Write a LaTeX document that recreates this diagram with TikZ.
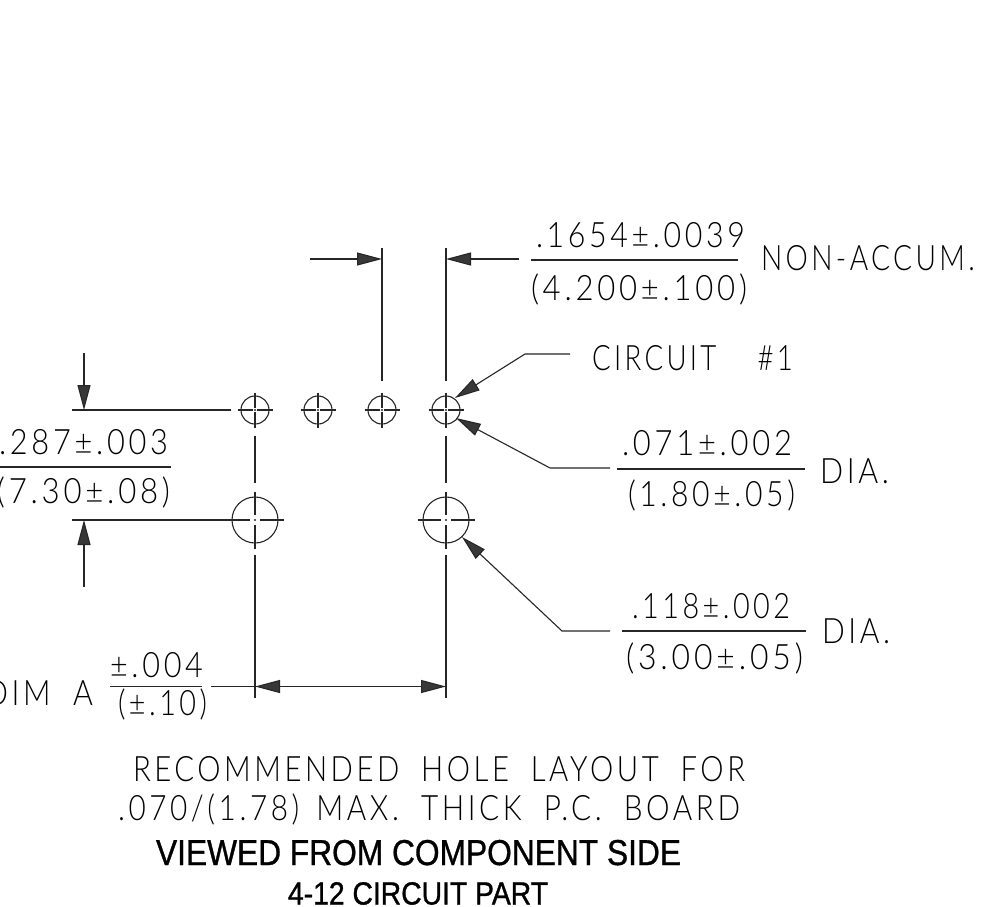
\documentclass[tikz,border=0pt]{standalone}
\usepackage{fontspec}
\usepackage{graphicx}
\usetikzlibrary{arrows.meta}
\setmainfont{Liberation Sans}
\newfontfamily\cadfont[LetterSpace=12,WordSpace=1.9]{Lato Light}
\newsavebox\fitbox
% target width, text already in its font
\newcommand\fitx[2]{%
  \sbox\fitbox{#2}%
  \edef\fitw{\the\wd\fitbox}%
  \pgfmathsetmacro\fitratio{(#1)/\fitw}%
  \scalebox{\fitratio}[1]{\usebox\fitbox}%
}
% name, left, right, baseline, text
\newcommand\cadtxt[5]{%
  \node[txt] (#1) at (#2,#4) {\fitx{#3-#2}{\fontsize{35}{35}\cadfont #5}};%
}
\newcommand\suntxt[6]{%
  \node[txt] (#1) at (#2,#4) {\fitx{#3-#2}{\fontsize{#5}{#5}\selectfont\special{pdf:literal direct 0.35 w 2 Tr}#6\special{pdf:literal direct 0 Tr}}};%
}
\tikzset{
  txt/.style={anchor=base west,inner sep=0pt,outer sep=0pt},
  ln/.style={line width=1.1pt,draw=black!85},
  dimarrow/.style={ln,-{Triangle[length=25pt,width=13pt,fill=black!78]}},
  hole/.style={circle,draw=black!85,line width=1.1pt,inner sep=0pt,outer sep=0pt},
  smallhole/.style={hole,minimum size=28pt},
  bighole/.style={hole,minimum size=46pt},
}
% name, x, y, half length, gap
\newcommand\crosshair[5]{%
  \draw[ln] (#2-#4,#3) -- (#2-#5,#3) (#2+#5,#3) -- (#2+#4,#3)
            (#2,#3-#4) -- (#2,#3-#5) (#2,#3+#5) -- (#2,#3+#4);
  \fill[black!85] (#2,#3) circle[radius=1.1pt];
}
\begin{document}
\begin{tikzpicture}[x=1pt,y=-1pt]
\useasboundingbox[fill=white] (0,0) rectangle (989,906);
% holes
\node[smallhole] (h1) at (255,410) {};
\node[smallhole] (h2) at (318,410) {};
\node[smallhole] (h3) at (382,410) {};
\node[smallhole] (h4) at (446,410) {};
\node[bighole] (b1) at (255,520) {};
\node[bighole] (b2) at (446,520) {};
\crosshair{c1}{255}{410}{17.5}{2}
\crosshair{c2}{318}{410}{17.5}{2}
\crosshair{c3}{382}{410}{17.5}{2}
\crosshair{c4}{446}{410}{17.5}{2}
\crosshair{c5}{255}{520}{28.5}{5}
\crosshair{c6}{446}{520}{28.5}{5}
% named free ends
\coordinate (e1a) at (255,436); \coordinate (e1b) at (255,483);
\coordinate (e2a) at (255,555); \coordinate (e2b) at (255,698);
\coordinate (e3a) at (446,436); \coordinate (e3b) at (446,483);
\coordinate (e4a) at (446,555); \coordinate (e4b) at (446,698);
\coordinate (e5a) at (382,248); \coordinate (e5b) at (382,381);
\coordinate (e6a) at (446,248); \coordinate (e6b) at (446,381);
\coordinate (e7a) at (72,410);  \coordinate (e7b) at (231,410);
\coordinate (e8a) at (72,520);  \coordinate (e8b) at (232,520);
\coordinate (v1a) at (84,353);  \coordinate (v1b) at (84,410);
\coordinate (v2a) at (84,587);  \coordinate (v2b) at (84,520);
\coordinate (t1a) at (310,259); \coordinate (t1b) at (382,259);
\coordinate (t2a) at (519,259); \coordinate (t2b) at (446,259);
\coordinate (d0) at (211,686.5); \coordinate (d1) at (255,686.5); \coordinate (d2) at (446,686.5);
\coordinate (l1a) at (570,354); \coordinate (l1b) at (525,354); \coordinate (l1c) at (455,398);
\coordinate (l2a) at (610,468); \coordinate (l2b) at (550,468); \coordinate (l2c) at (456,418);
\coordinate (l3a) at (610,631); \coordinate (l3b) at (562,631); \coordinate (l3c) at (462,537);
% extension lines
\draw[ln] (e1a)--(e1b) (e2a)--(e2b) (e3a)--(e3b) (e4a)--(e4b)
          (e5a)--(e5b) (e6a)--(e6b) (e7a)--(e7b) (e8a)--(e8b);
% dimension arrows
\draw[dimarrow] (v1a)--(v1b);
\draw[dimarrow] (v2a)--(v2b);
\draw[dimarrow] (t1a)--(t1b);
\draw[dimarrow] (t2a)--(t2b);
\draw[ln] (d0)--(d1);
\draw[ln,{Triangle[length=25pt,width=13pt,fill=black!78]}-{Triangle[length=25pt,width=13pt,fill=black!78]}] (d1)--(d2);
% leaders
\draw[dimarrow] (l1a)--(l1b)--(l1c);
\draw[dimarrow] (l2a)--(l2b)--(l2c);
\draw[dimarrow] (l3a)--(l3b)--(l3c);
% fraction bars
\coordinate (f1a) at (531,260); \coordinate (f1b) at (738,260);
\coordinate (f2a) at (617,469); \coordinate (f2b) at (805,469);
\coordinate (f3a) at (622,631); \coordinate (f3b) at (806,631);
\coordinate (f4a) at (0,467);   \coordinate (f4b) at (171,467);
\coordinate (f5a) at (110,686.5); \coordinate (f5b) at (202,686.5);
\draw[ln] (f1a)--(f1b) (f2a)--(f2b) (f3a)--(f3b) (f4a)--(f4b) (f5a)--(f5b);
% texts
\cadtxt{a1}{536}{745}{247}{.1654±.0039}
\cadtxt{a2}{531}{747}{300}{(4.200±.100)}
\cadtxt{a3}{761}{975}{270}{NON-ACCUM.}
\cadtxt{a4}{592}{793}{370}{CIRCUIT\ \ \#1}
\cadtxt{a5}{622}{792}{455}{.071±.002}
\cadtxt{a6}{628}{795}{506}{(1.80±.05)}
\cadtxt{a7}{820}{889}{483}{DIA.}
\cadtxt{a8}{632}{790}{618}{.118±.002}
\cadtxt{a9}{626}{803}{669}{(3.00±.05)}
\cadtxt{a10}{822}{890}{643}{DIA.}
\cadtxt{a11}{-1}{168}{454}{.287±.003}
\cadtxt{a12}{-3}{170}{503}{(7.30±.08)}
\cadtxt{a13}{-15}{93}{705}{DIM\ A}
\cadtxt{a14}{110}{203}{677}{±.004}
\cadtxt{a15}{118}{207}{715}{(±.10)}
\cadtxt{a16}{133}{745}{781}{RECOMMENDED HOLE LAYOUT FOR}
\cadtxt{a17}{118}{740}{820}{.070/(1.78)\kern-6pt\ MAX. THICK P.C. BOARD}
\suntxt{a18}{156}{681}{865}{36}{VIEWED FROM COMPONENT SIDE}
\suntxt{a19}{288}{548}{904.5}{32}{4-12 CIRCUIT PART}
\end{tikzpicture}
\end{document}
